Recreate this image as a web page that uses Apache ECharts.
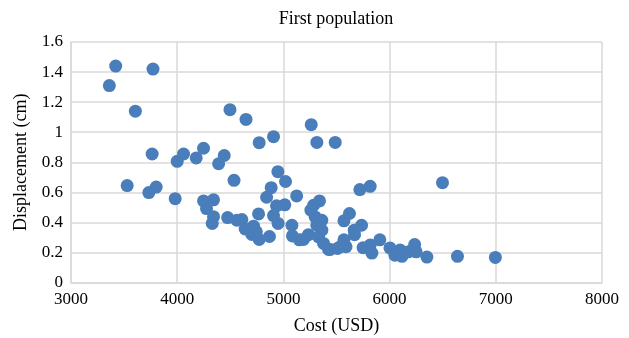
<!DOCTYPE html>
<html>
<head>
<meta charset="utf-8">
<script src="https://cdn.jsdelivr.net/npm/echarts@6/dist/echarts.min.js"></script>
<style>html,body{margin:0;padding:0;background:#fff}#c{width:629px;height:338px}</style>
</head>
<body>
<div id="c"></div>
<script>
const costUSD = [3361,3421,3772,3606,3764,4497,4648,4772,4907,5262,5315,5488,4000,4060,4179,4248,4390,4443,3529,3733,3802,3981,4535,4948,5020,4885,4842,5125,5720,5817,6498,4248,4342,4276,4342,4330,4475,4562,4609,4640,4719,4703,4745,4772,4869,4766,4935,5013,4907,4950,5080,5085,5150,5236,5340,5284,5259,5299,5362,5315,5362,5331,5378,5425,5189,5622,5570,5736,5667,5670,5570,5590,5510,5750,5817,5833,5908,6003,6050,6099,6116,6178,6236,6250,6351,6639,6996,5535,5441];
const displacementCm = [1.31,1.44,1.42,1.14,0.855,1.15,1.085,0.93,0.97,1.05,0.932,0.932,0.806,0.855,0.829,0.893,0.79,0.845,0.645,0.598,0.635,0.558,0.68,0.737,0.672,0.631,0.567,0.576,0.618,0.64,0.664,0.543,0.55,0.492,0.438,0.393,0.432,0.414,0.419,0.356,0.375,0.32,0.337,0.286,0.306,0.456,0.51,0.517,0.445,0.393,0.381,0.31,0.284,0.318,0.543,0.514,0.481,0.436,0.414,0.381,0.348,0.304,0.26,0.22,0.286,0.459,0.41,0.381,0.348,0.318,0.284,0.238,0.227,0.232,0.249,0.196,0.284,0.23,0.182,0.216,0.174,0.204,0.252,0.204,0.169,0.174,0.167,0.238,0.22];
const chartTitle = "First population";
const xName = "Cost (USD)";
const yName = "Displacement (cm)";

const points = costUSD.map((x, i) => [x, displacementCm[i]]);
const font = "'Liberation Serif', 'DejaVu Serif', serif";
const gridColor = '#d9d9d9';

const chart = echarts.init(document.getElementById('c'), null, {renderer: 'canvas'});
chart.setOption({
  animation: false,
  title: {
    text: chartTitle, left: 336, top: 10, textAlign: 'center', padding: 0,
    textStyle: {fontFamily: font, fontSize: 18, fontWeight: 'normal', color: '#000'}
  },
  grid: {left: 71, right: 27, top: 42, bottom: 55.5, outerBoundsMode: 'none', containLabel: false},
  xAxis: {
    type: 'value', min: 3000, max: 8000, interval: 1000,
    name: xName, nameLocation: 'middle', nameGap: 35,
    nameTextStyle: {fontFamily: font, fontSize: 18, color: '#000'},
    axisLine: {show: true, lineStyle: {color: gridColor, width: 1.5}},
    axisTick: {show: false},
    axisLabel: {fontFamily: font, fontSize: 17, color: '#000', margin: 9,
      formatter: v => String(v)},
    splitLine: {show: true, lineStyle: {color: gridColor, width: 1.5}}
  },
  yAxis: {
    type: 'value', min: 0, max: 1.6, interval: 0.2,
    name: yName, nameLocation: 'middle', nameGap: 41,
    nameTextStyle: {fontFamily: font, fontSize: 18, color: '#000'},
    axisLine: {show: true, lineStyle: {color: gridColor, width: 1.5}},
    axisTick: {show: false},
    axisLabel: {fontFamily: font, fontSize: 17, color: '#000', margin: 8,
      formatter: v => (Math.round(v * 10) / 10).toString()},
    splitLine: {show: true, lineStyle: {color: gridColor, width: 1.5}}
  },
  series: [{
    type: 'scatter', data: points, symbolSize: 13,
    itemStyle: {color: '#4a7ebb', opacity: 1}
  }]
});
</script>
</body>
</html>
